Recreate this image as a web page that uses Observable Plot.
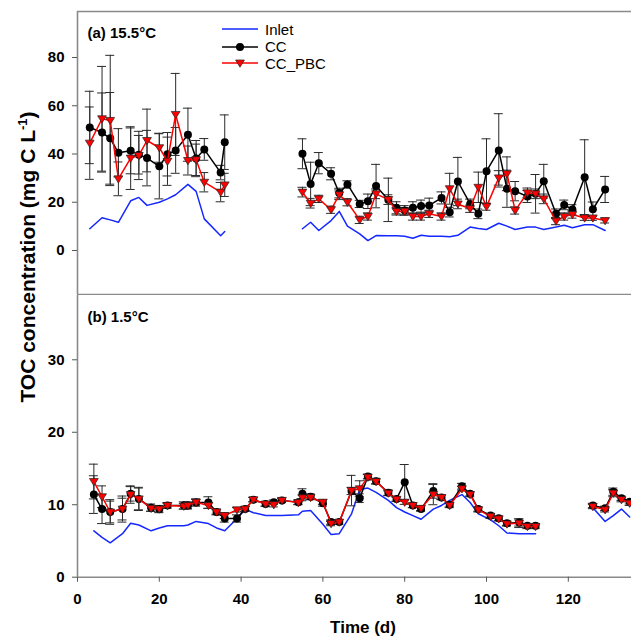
<!DOCTYPE html>
<html><head><meta charset="utf-8">
<script src="https://cdn.jsdelivr.net/npm/d3@7"></script>
<script src="https://cdn.jsdelivr.net/npm/@observablehq/plot@0.6"></script>
<style>
body{margin:0;background:#fff;font-family:Arial,"Liberation Sans",sans-serif;}
#wrap{position:relative;width:631px;height:640px;overflow:hidden;background:#fff;}
#wrap svg{display:block;}
.ytitle{position:absolute;left:28px;top:257px;transform:translate(-50%,-50%) rotate(-90deg);white-space:nowrap;font-weight:bold;font-size:21px;color:#000;}
.ytitle sup{font-size:13px;line-height:0;}
.xtitle{position:absolute;left:363px;top:619px;transform:translateX(-50%);white-space:nowrap;font-weight:bold;font-size:17px;line-height:17px;}
.leg{position:absolute;left:222px;height:18px;display:flex;align-items:center;font-size:15px;color:#000;}
.leg svg{margin-right:7px;}
</style></head><body><div id="wrap"></div>
<script>
// ---------- data: panel (a) 15.5°C ----------
const topDaysA   = [3, 6, 8, 10, 13, 15, 17, 20, 22, 24, 27, 29, 31, 35, 36];
const topInletA  = [9.0, 13.6, 12.7, 11.7, 20.6, 22.0, 18.7, 20.0, 21.4, 23.1, 27.4, 24.5, 13.1, 6.1, 7.9];
const topCCA     = [51.0, 48.9, 46.5, 40.5, 41.3, 39.7, 38.3, 34.9, 39.9, 41.5, 48.0, 38.1, 41.9, 32.3, 44.9];
const topCCsdA   = [15, 16.4, 19, 10, 9.5, 8, 11.5, 13.5, 9, 9.5, 11, 7.5, 4.5, 3, 11.3];
const topPBCA    = [44.5, 54.6, 53.9, 29.7, 38.3, 39.4, 45.6, 42.6, 37.0, 56.4, 37.3, 37.6, 28.3, 24.2, 27.2];
const topPBCsdA  = [15, 21.7, 27, 7, 13, 10, 13, 6, 10, 17, 6, 6.5, 4, 4, 4.8];

const topDaysB   = [55, 57, 59, 62, 64, 66, 69, 71, 73, 76, 78, 80, 82, 84, 86, 89, 91, 93, 96, 98, 100, 103, 105, 107, 110, 112, 114, 117, 119, 121, 124, 126, 129];
const topInletB  = [9.0, 11.7, 8.3, 12.4, 16.2, 10.1, 6.9, 4.1, 6.2, 6.1, 6.1, 5.9, 5.1, 6.3, 5.9, 5.9, 5.7, 6.3, 9.7, 9.1, 8.7, 11.3, 10.1, 8.7, 9.7, 9.7, 8.7, 9.7, 10.5, 9.4, 10.7, 10.7, 8.3];
const topCCB     = [40.1, 27.6, 36.2, 31.8, 23.8, 27.4, 19.3, 20.4, 26.7, 21.0, 17.7, 16.6, 17.7, 18.4, 18.7, 21.8, 15.9, 28.6, 19.3, 15.2, 32.9, 41.5, 25.6, 24.6, 22.4, 23.5, 28.7, 15.2, 18.9, 17.0, 30.4, 17.1, 25.3];
const topCCsdB   = [6.2, 9, 4.4, 2.5, 2, 1.5, 1.5, 3, 9, 9, 2.5, 2, 2.5, 2.5, 3, 2.5, 2, 10, 2, 2, 13.4, 15.2, 7.7, 4, 2.5, 8, 7, 2, 2, 2, 15.5, 3, 5.4];
const topPBCB    = [24.2, 19.6, 21.4, 16.9, 23.1, 20.0, 12.7, 14.1, 23.5, 21.1, 16.2, 16.3, 14.1, 14.1, 15.2, 14.1, 25.6, 19.3, 17.3, 26.2, 18.2, 30.1, 31.8, 16.6, 23.9, 23.5, 21.4, 12.2, 14.1, 14.9, 13.5, 13.5, 12.4];
const topPBCsdB  = [2, 2, 1.5, 1.5, 2, 1.5, 1.5, 1.5, 2, 2, 1.5, 1.5, 1.5, 1.5, 1.5, 1.5, 6.4, 2, 1.5, 6.3, 1.5, 3, 7, 1.5, 2, 2, 2, 1.5, 1.5, 1.5, 1, 1, 1];

// ---------- data: panel (b) 1.5°C ----------
const botDaysA   = [4, 6, 8, 11, 13, 15, 18, 20, 22, 26, 27, 29, 32, 34, 36, 39, 41, 43, 46, 48, 50, 54, 55, 57, 60, 62, 64, 67, 69, 71, 73, 76, 78, 80, 82, 84, 87, 89, 91, 94, 96, 98, 101, 103, 105, 108, 110, 112];
const botInletA  = [6.4, 5.5, 4.75, 6.0, 7.45, 7.2, 6.4, 6.8, 7.1, 7.1, 7.2, 7.7, 7.4, 6.8, 6.4, 8.1, 9.4, 8.9, 8.5, 8.5, 8.5, 8.6, 9.1, 9.2, 7.3, 5.9, 6.0, 8.75, 12.1, 12.3, 11.7, 10.6, 9.6, 9.0, 8.5, 8.0, 9.4, 9.9, 10.6, 11.4, 10.3, 8.75, 7.9, 7.1, 6.1, 6.0, 6.0, 6.0];
const botCCA     = [11.4, 9.4, 9.0, 9.4, 11.5, 10.8, 9.6, 9.4, 9.9, 9.9, 9.9, 10.3, 10.3, 9.0, 8.1, 8.1, 9.4, 10.7, 10.1, 10.35, 10.6, 10.35, 11.5, 11.1, 10.2, 7.6, 7.6, 11.9, 10.9, 13.9, 13.25, 11.65, 10.8, 13.1, 9.9, 9.4, 11.9, 11.0, 10.0, 12.55, 11.5, 9.4, 8.5, 8.15, 7.45, 7.55, 7.1, 7.1];
const botCCsdA   = [2.6, 2, 1.5, 1.5, 1, 1.6, 0.5, 0.5, 0.4, 0.5, 0.5, 0.5, 0.8, 0.4, 0.5, 0.5, 0.3, 0.3, 0.3, 0.3, 0.3, 0.3, 0.7, 0.4, 0.4, 0.3, 0.3, 0.5, 0.6, 0.3, 0.4, 0.4, 0.3, 2.45, 0.3, 0.3, 1.0, 0.3, 0.3, 0.4, 0.3, 0.3, 0.3, 0.3, 0.3, 0.5, 0.3, 0.3];
const botPBCA    = [13.2, 11.1, 9.0, 9.4, 11.4, 10.8, 9.5, 9.4, 9.9, 9.8, 9.9, 10.35, 9.9, 9.0, 8.5, 9.3, 9.4, 10.7, 10.1, 10.0, 10.6, 10.3, 10.95, 11.0, 10.35, 7.4, 7.6, 11.95, 12.2, 13.8, 13.2, 11.6, 10.75, 10.35, 9.9, 9.5, 11.4, 11.0, 9.9, 12.2, 11.4, 9.3, 8.4, 8.05, 7.35, 7.45, 7.0, 7.0];
const botPBCsdA  = [2.4, 1.5, 1.7, 1.8, 1.2, 1.5, 0.4, 0.4, 0.3, 0.4, 0.4, 0.4, 0.4, 0.3, 0.4, 0.3, 0.3, 0.3, 0.3, 0.3, 0.3, 0.3, 0.4, 0.3, 0.3, 0.3, 0.3, 2.1, 1.1, 0.4, 0.3, 0.3, 0.3, 0.3, 0.3, 0.3, 1.4, 0.3, 0.3, 0.3, 0.3, 0.3, 0.3, 0.3, 0.3, 0.6, 0.3, 0.3];

const botDaysB   = [126, 129, 131, 133, 135];
const botInletB  = [9.6, 7.7, 8.5, 9.4, 8.3];
const botCCB     = [9.9, 9.5, 11.8, 10.9, 10.4];
const botCCsdB   = [0.3, 0.3, 0.5, 0.3, 0.3];
const botPBCB    = [9.75, 9.3, 11.6, 10.7, 10.2];
const botPBCsdB  = [0.3, 0.3, 0.5, 0.3, 0.3];

// ---------- axes / labels ----------
const xTicks = [0, 20, 40, 60, 80, 100, 120];
const topYTicks = [0, 20, 40, 60, 80];
const botYTicks = [0, 10, 20, 30];
const xDomain = [0, 135.45];
const topYDomain = [-18.24, 99.07];
const botYDomain = [0, 38.87];
const seriesNames = ["Inlet", "CC", "CC_PBC"];
const panelLabels = ["(a) 15.5°C", "(b) 1.5°C"];

const BLUE = "#1428ff", RED = "#ff0000", FRAME = "#8a8a8a", ERR = "#2a2a2a";

function build(parts) {
  return parts.flatMap((p, s) => p.days.map((day, i) => ({
    seg: s, day, inlet: p.inlet[i], cc: p.cc[i], ccSd: p.ccSd[i], pbc: p.pbc[i], pbcSd: p.pbcSd[i]
  })));
}
const topRows = build([
  {days: topDaysA, inlet: topInletA, cc: topCCA, ccSd: topCCsdA, pbc: topPBCA, pbcSd: topPBCsdA},
  {days: topDaysB, inlet: topInletB, cc: topCCB, ccSd: topCCsdB, pbc: topPBCB, pbcSd: topPBCsdB}
]);
const botRows = build([
  {days: botDaysA, inlet: botInletA, cc: botCCA, ccSd: botCCsdA, pbc: botPBCA, pbcSd: botPBCsdA},
  {days: botDaysB, inlet: botInletB, cc: botCCB, ccSd: botCCsdB, pbc: botPBCB, pbcSd: botPBCsdB}
]);

const triDown = {
  draw(ctx, size) {
    const r = Math.sqrt(size / Math.PI);
    ctx.moveTo(-1.1 * r, -0.75 * r);
    ctx.lineTo(1.1 * r, -0.75 * r);
    ctx.lineTo(0, 1.05 * r);
    ctx.closePath();
  }
};
const CAP = 1.1; // half cap width in days

function seriesMarks(rows) {
  return [
    Plot.line(rows, {x: "day", y: "inlet", z: "seg", stroke: BLUE, strokeWidth: 1.5}),
    Plot.ruleX(rows, {x: "day", y1: d => d.cc - d.ccSd, y2: d => d.cc + d.ccSd, stroke: ERR, strokeWidth: 1}),
    Plot.ruleY(rows, {y: d => d.cc + d.ccSd, x1: d => d.day - CAP, x2: d => d.day + CAP, stroke: ERR, strokeWidth: 1}),
    Plot.ruleY(rows, {y: d => d.cc - d.ccSd, x1: d => d.day - CAP, x2: d => d.day + CAP, stroke: ERR, strokeWidth: 1}),
    Plot.ruleX(rows, {x: "day", y1: d => d.pbc - d.pbcSd, y2: d => d.pbc + d.pbcSd, stroke: ERR, strokeWidth: 1}),
    Plot.ruleY(rows, {y: d => d.pbc + d.pbcSd, x1: d => d.day - CAP, x2: d => d.day + CAP, stroke: ERR, strokeWidth: 1}),
    Plot.ruleY(rows, {y: d => d.pbc - d.pbcSd, x1: d => d.day - CAP, x2: d => d.day + CAP, stroke: ERR, strokeWidth: 1}),
    Plot.line(rows, {x: "day", y: "cc", z: "seg", stroke: "#000", strokeWidth: 1.5}),
    Plot.dot(rows, {x: "day", y: "cc", r: 4, fill: "#000", stroke: "none"}),
    Plot.line(rows, {x: "day", y: "pbc", z: "seg", stroke: RED, strokeWidth: 1.5}),
    Plot.dot(rows, {x: "day", y: "pbc", r: 4, symbol: triDown, fill: RED, stroke: "#222", strokeWidth: 0.7})
  ];
}

const svgStyle = {fontFamily: "Arial, 'Liberation Sans', sans-serif", fontSize: "15px", fontWeight: "bold", background: "transparent", color: "#000"};

const topPlot = Plot.plot({
  width: 631, height: 295,
  marginTop: 11, marginBottom: 1, marginLeft: 77, marginRight: 0,
  style: svgStyle,
  x: {domain: xDomain, axis: null},
  y: {domain: topYDomain, axis: null},
  marks: [
    Plot.ruleX([xDomain[0]], {stroke: FRAME, strokeWidth: 1.6}),
    Plot.ruleY([topYDomain[1]], {stroke: FRAME, strokeWidth: 1.6}),
    Plot.ruleY([topYDomain[0]], {stroke: FRAME, strokeWidth: 1.6}),
    Plot.axisY({ticks: topYTicks, tickSize: 5, tickPadding: 8, label: null, stroke: "#555", fill: "#000"}),
    ...seriesMarks(topRows),
    Plot.text([panelLabels[0]], {text: d => d, frameAnchor: "top-left", dx: 10, dy: 16, textAnchor: "start", lineAnchor: "top", fontSize: 15, fontWeight: "bold"})
  ]
});

const botPlot = Plot.plot({
  width: 631, height: 345,
  marginTop: 0, marginBottom: 63.3, marginLeft: 77, marginRight: 0,
  style: svgStyle,
  x: {domain: xDomain},
  y: {domain: botYDomain},
  marks: [
    Plot.ruleX([xDomain[0]], {stroke: FRAME, strokeWidth: 1.6}),
    Plot.ruleY([botYDomain[0]], {stroke: FRAME, strokeWidth: 1.6}),
    Plot.axisY({ticks: botYTicks, tickSize: 5, tickPadding: 8, label: null, stroke: "#555", fill: "#000"}),
    Plot.axisX({ticks: xTicks, tickSize: 5, tickPadding: 11, label: null, stroke: "#555", fill: "#000"}),
    ...seriesMarks(botRows),
    Plot.text([panelLabels[1]], {text: d => d, frameAnchor: "top-left", dx: 10, dy: 16, textAnchor: "start", lineAnchor: "top", fontSize: 15, fontWeight: "bold"})
  ]
});

const wrap = document.getElementById("wrap");
wrap.appendChild(topPlot);
wrap.appendChild(botPlot);

// axis titles
const yt = document.createElement("div");
yt.className = "ytitle";
yt.innerHTML = "TOC concentration (mg C L<sup>-1</sup>)";
wrap.appendChild(yt);
const xt = document.createElement("div");
xt.className = "xtitle";
xt.textContent = "Time (d)";
wrap.appendChild(xt);

// legend
const legTops = [29.3, 46.7, 63.3];
const legKinds = [
  {stroke: BLUE, marker: null},
  {stroke: "#000", marker: "circle"},
  {stroke: RED, marker: "tri"}
];
seriesNames.forEach((name, i) => {
  const k = legKinds[i];
  const div = document.createElement("div");
  div.className = "leg";
  div.style.top = (legTops[i] - 9) + "px";
  let m = "";
  if (k.marker === "circle") m = '<circle cx="18" cy="9" r="4" fill="#000"/>';
  if (k.marker === "tri") m = '<path d="M13.6,6 L22.4,6 L18,13.2 Z" fill="' + RED + '" stroke="#222" stroke-width="0.7"/>';
  div.innerHTML = '<svg width="36" height="18"><line x1="0" x2="36" y1="9" y2="9" stroke="' + k.stroke + '" stroke-width="1.5"/>' + m + '</svg><span>' + name + '</span>';
  wrap.appendChild(div);
});
</script></body></html>
